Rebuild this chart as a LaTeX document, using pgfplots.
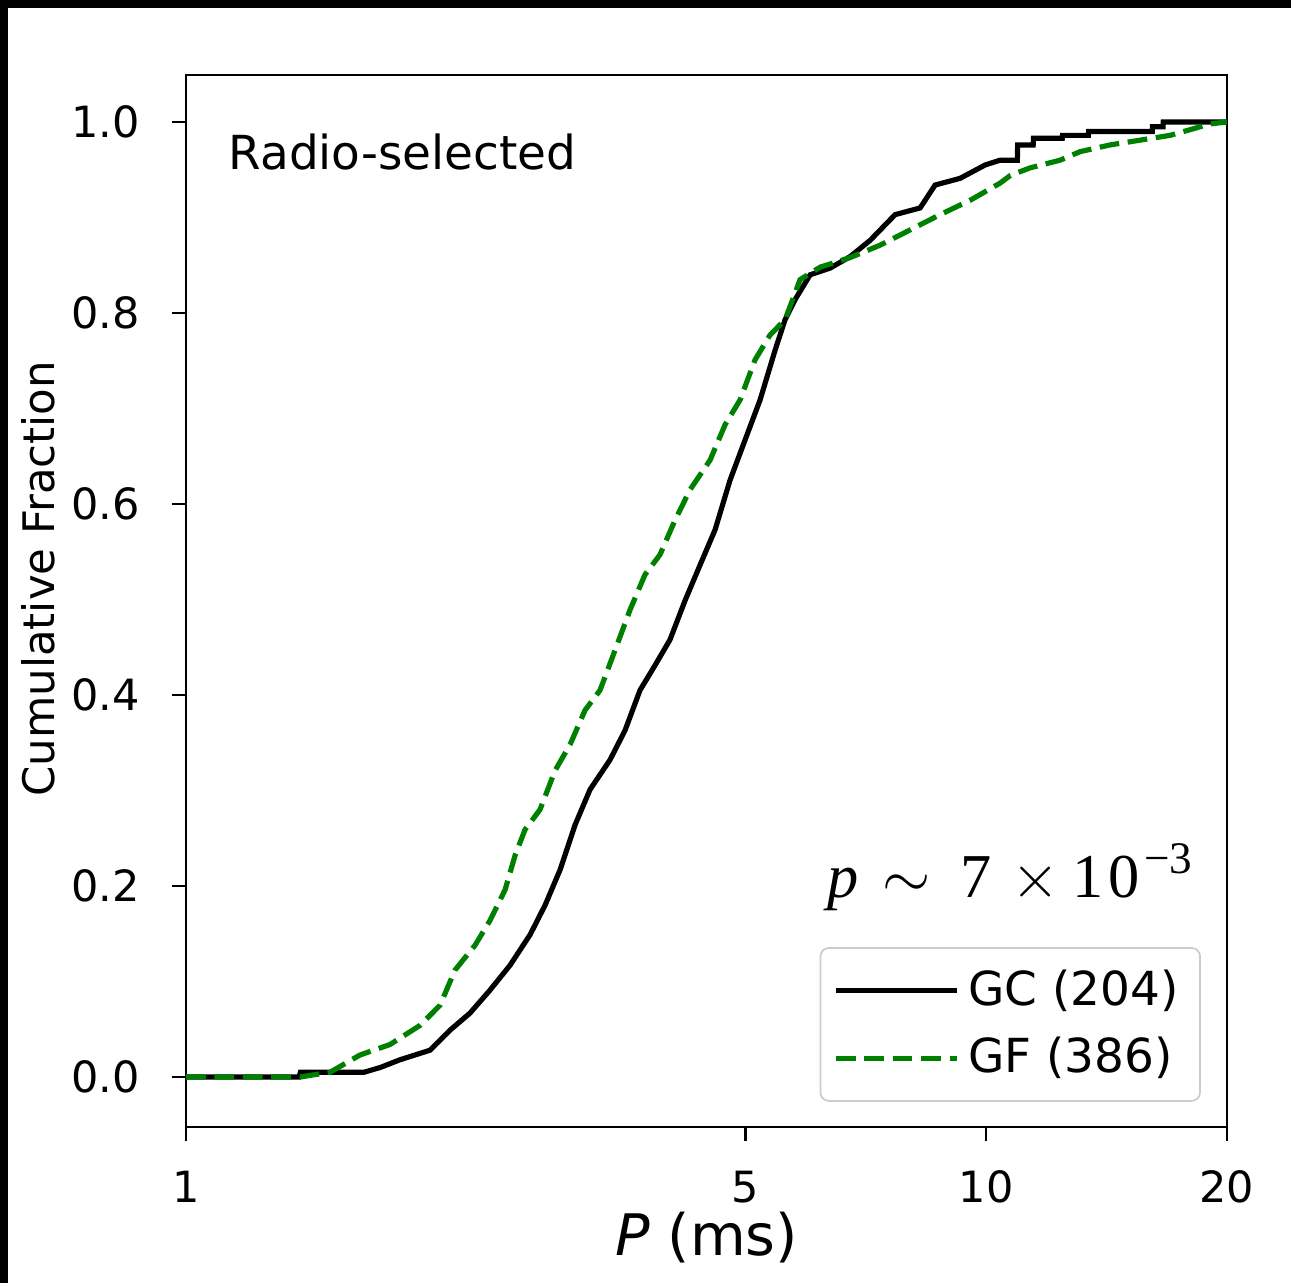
\documentclass[border=0pt]{standalone}
\usepackage{fontspec}
\setmainfont{DejaVu Sans}
\newfontfamily\timesf{Liberation Serif}
\usepackage{pgfplots}
\pgfplotsset{compat=1.18}

\definecolor{mplgreen}{rgb}{0,0.5,0}

\begin{document}
\begin{tikzpicture}
\useasboundingbox (-43.22pt,-36.25pt) rectangle (256.78pt,261.89pt);
\fill[black] (-43.22pt,260.03pt) rectangle (256.78pt,261.89pt);
\fill[black] (-43.22pt,-36.25pt) rectangle (-41.36pt,261.89pt);

\begin{axis}[
  scale only axis,
  width=241.9pt, height=244.46pt,
  at={(0,0)}, anchor=south west,
  xmode=log,
  xmin=1, xmax=20,
  ymin=-0.0524, ymax=1.0492,
  xtick={1,5,10,20},
  xticklabels={1,5,10,20},
  xminorticks=false,
  ytick={0,0.2,0.4,0.6,0.8,1.0},
  yticklabels={0.0,0.2,0.4,0.6,0.8,1.0},
  tick align=outside,
  tick pos=left,
  major tick length=3.3pt,
  axis line style={line width=0.6pt},
  every tick/.style={black, line width=0.6pt},
  /pgf/number format/assume math mode=true,
  tick label style={font=\fontsize{10}{12}\selectfont, inner sep=0pt},
  xticklabel style={anchor=base, yshift=-14.2pt},
  yticklabel style={anchor=east, xshift=-7.2pt},
  xlabel={\textit{P} (ms)},
  xlabel style={at={(axis description cs:0.5,-0.1226)}, anchor=base,
    font=\fontsize{13.3}{16}\selectfont, inner sep=0pt},
  ylabel={Cumulative Fraction},
  ylabel style={at={(axis description cs:-0.126,0.521)}, anchor=base,
    font=\fontsize{10.1}{12}\selectfont, inner sep=0pt},
  legend cell align=left,
  legend style={at={(0.975,0.024)}, anchor=south east,
    draw=black!20, rounded corners=2pt,
    font=\fontsize{10.9}{13}\selectfont,
    inner xsep=3pt, inner ysep=3pt, row sep=2pt},
  legend image code/.code={%
    \draw[#1] (0pt,0pt) -- (24.4pt,0pt);
    \path (0pt,0pt) -- (28.2pt,0pt);},
]

\addplot[black, line width=1.2pt] coordinates {
  (1,0) (1.385,0) (1.39,0.005) (1.67,0.005) (1.75,0.010) (1.851,0.018)
  (2.018,0.028) (2.138,0.049) (2.265,0.067) (2.399,0.091) (2.541,0.117)
  (2.692,0.149) (2.811,0.180) (2.935,0.217) (3.064,0.264) (3.199,0.301)
  (3.388,0.332) (3.538,0.363) (3.694,0.405) (3.857,0.431) (4.027,0.458)
  (4.205,0.499) (4.390,0.536) (4.584,0.573) (4.786,0.625) (4.997,0.667)
  (5.218,0.709) (5.448,0.761) (5.607,0.793) (5.771,0.814) (6.026,0.840)
  (6.383,0.847) (6.761,0.859) (7.161,0.876) (7.697,0.903) (8.270,0.910)
  (8.635,0.934) (9.279,0.941) (9.971,0.955) (10.41,0.960) (10.94,0.960)
  (10.95,0.976) (11.45,0.976) (11.46,0.983) (12.45,0.983) (12.46,0.986)
  (13.42,0.986) (13.43,0.990) (16.13,0.990) (16.14,0.995) (16.64,0.995)
  (16.65,1.0) (20,1.0)
};
\addlegendentry{GC (204)}

\addplot[mplgreen, line width=1.2pt, dash pattern=on 4.6pt off 2pt] coordinates {
  (1,0) (1.39,0) (1.514,0.005) (1.650,0.023) (1.799,0.034) (1.961,0.054)
  (2.077,0.075) (2.169,0.112) (2.298,0.138) (2.399,0.164) (2.505,0.196)
  (2.578,0.232) (2.653,0.259) (2.770,0.280) (2.893,0.321) (3.020,0.348)
  (3.153,0.384) (3.292,0.405) (3.438,0.447) (3.589,0.489) (3.747,0.526)
  (3.913,0.547) (4.085,0.583) (4.266,0.615) (4.519,0.646) (4.718,0.683)
  (4.926,0.709) (5.143,0.751) (5.370,0.777) (5.607,0.793) (5.855,0.835)
  (6.202,0.848) (6.761,0.858) (7.371,0.871) (8.035,0.887) (8.759,0.903)
  (9.550,0.918) (10.41,0.936) (10.72,0.944) (11.35,0.952) (12.37,0.960)
  (13.11,0.969) (14.29,0.976) (15.58,0.981) (16.98,0.986) (17.99,0.992)
  (19.05,0.998) (20,1.0)
};
\addlegendentry{GF (386)}

\node[anchor=base west, inner sep=0pt, font=\fontsize{10.9}{13}\selectfont]
  at (axis description cs:0.0403,0.9106) {Radio-selected};
\node[anchor=base west, inner sep=0pt,
  font=\timesf\fontsize{14.5}{17}\selectfont]
  at (axis description cs:0.6155,0.2177)
  {\textit{p}\hspace{5.5pt}$\sim$\hspace{7pt}7\hspace{4.5pt}$\times$\hspace{3pt}1\hspace{1.2pt}0\hspace{1pt}\raisebox{5.8pt}{\fontsize{10.5}{13}\selectfont −3}};
\end{axis}
\end{tikzpicture}
\end{document}
